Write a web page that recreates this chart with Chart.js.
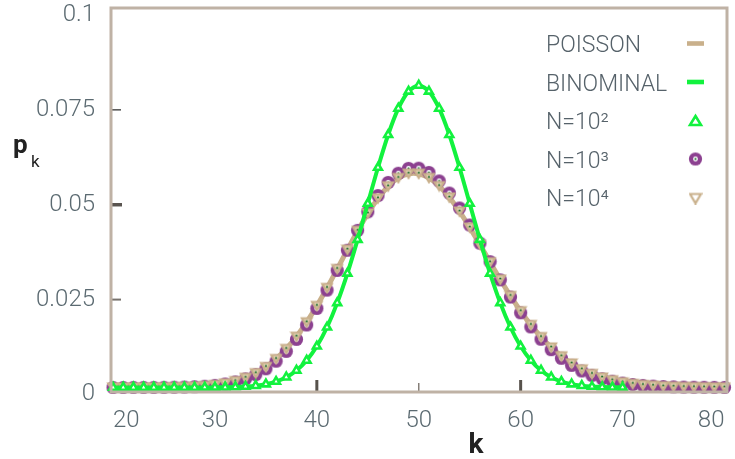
<!DOCTYPE html>
<html><head><meta charset="utf-8">
<script src="https://cdn.jsdelivr.net/npm/chart.js@4.4.0/dist/chart.umd.min.js"></script>
<style>html,body{margin:0;padding:0;background:#fff;}canvas{display:block;}</style>
</head><body>
<canvas id="c" width="735" height="459"></canvas>
<script>
// ---- data ----
const kValues = [20,21,22,23,24,25,26,27,28,29,30,31,32,33,34,35,36,37,38,39,40,41,42,43,44,45,46,47,48,49,50,
                 51,52,53,54,55,56,57,58,59,60,61,62,63,64,65,66,67,68,69,70,71,72,73,74,75,76,77,78,79,80];

const poisson = [0.0000008,0.0000018,0.0000041,0.0000089,0.0000185,0.0000371,0.0000713,0.000132,0.000236,0.000406,
  0.000677,0.001092,0.001707,0.002586,0.003803,0.005432,0.007545,0.010196,0.013416,0.017200,
  0.021500,0.026219,0.031213,0.036294,0.041243,0.045826,0.049811,0.052990,0.055198,0.056325,0.056325,
  0.055221,0.053097,0.050092,0.046381,0.042165,0.037647,0.033024,0.028469,0.024126,0.020105,
  0.016479,0.013290,0.010547,0.008240,0.006338,0.004802,0.003584,0.002635,0.001910,0.001364,
  0.000961,0.000667,0.000457,0.000309,0.000206,0.000136,0.000088,0.000056,0.000036,0.000022];

const binomial = [0,0,0,0,0,0.0000002,0.0000005,0.0000015,0.0000039,0.0000097,
  0.0000232,0.0000522,0.000113,0.000232,0.000458,0.000864,0.001560,0.002698,0.004473,0.007111,
  0.010844,0.015869,0.022292,0.030068,0.038952,0.048474,0.057958,0.066590,0.073527,0.078029,0.079589,
  0.078029,0.073527,0.066590,0.057958,0.048474,0.038952,0.030068,0.022292,0.015869,0.010844,
  0.007111,0.004473,0.002698,0.001560,0.000864,0.000458,0.000232,0.000113,0.0000522,0.0000232,
  null,null,null,null,null,null,null,null,null,null];

const n100 = binomial;

const n1000 = [0.0000005,0.0000012,0.0000028,0.0000062,0.0000132,0.0000271,0.0000535,0.000102,0.000186,0.000328,
  0.000558,0.000919,0.001464,0.002261,0.003384,0.004916,0.006935,0.009510,0.012685,0.016468,
  0.020824,0.025663,0.030841,0.036164,0.041399,0.046290,0.050580,0.054036,0.056465,0.057739,0.057800,
  0.056667,0.054430,0.051241,0.047295,0.042814,0.038025,0.033145,0.028362,0.023833,0.019673,
  0.015955,0.012718,0.009966,0.007679,0.005820,0.004339,0.003184,0.002299,0.001634,0.001144,
  0.000789,0.000536,0.000358,0.000236,0.000154,0.000098,0.000062,0.000039,0.000024,0.000014];

const n10000 = [0.0000007,0.0000016,0.0000037,0.0000082,0.0000172,0.0000348,0.0000675,0.000126,0.000227,0.000393,
  0.000659,0.001068,0.001676,0.002550,0.003763,0.005390,0.007504,0.010161,0.013390,0.017186,
  0.021499,0.026232,0.031238,0.036328,0.041282,0.045865,0.049846,0.053018,0.055218,0.056337,0.056330,
  0.055218,0.053085,0.050073,0.046357,0.042140,0.037624,0.033005,0.028455,0.024117,0.020100,
  0.016477,0.013289,0.010545,0.008236,0.006331,0.004793,0.003573,0.002624,0.001899,0.001355,
  0.000953,0.000660,0.000451,0.000304,0.000202,0.000133,0.000086,0.000055,0.000035,0.000021];

const xTickValues = [20,30,40,50,60,70,80];
const yTickValues = [0,0.025,0.05,0.075,0.1];
const yTickLabels = ['0','0.025','0.05','0.075','0.1'];
const seriesLabels = ['POISSON','BINOMINAL','N=10\u00B2','N=10\u00B3','N=10\u2074'];

// ---- styles ----
const TAN = '#c9b08b', GREEN = '#12f23e', PURPLE = '#8c4190', DOT = '#1f6e2e';
const TICK_FONT = {family:'Roboto', size:24, weight:'300'};
const TICK_COLOR = '#5b6a71';

function pts(arr){ return kValues.map((k,i)=>({x:k, y:arr[i]})); }

function makeCircle(){
  const c = document.createElement('canvas'); c.width = 15; c.height = 15;
  const g = c.getContext('2d');
  g.fillStyle = PURPLE; g.beginPath(); g.arc(7.5,7.5,6.6,0,Math.PI*2); g.fill();
  g.fillStyle = '#ffffff'; g.beginPath(); g.arc(7.5,7.5,2.4,0,Math.PI*2); g.fill();
  g.fillStyle = DOT; g.beginPath(); g.arc(7.5,7.5,1.1,0,Math.PI*2); g.fill();
  return c;
}
function makeDownTri(withDot, w){
  const c = document.createElement('canvas'); c.width = 14; c.height = 13;
  const g = c.getContext('2d');
  const h = w/2;
  g.beginPath(); g.moveTo(7-h,2.5); g.lineTo(7+h,2.5); g.lineTo(7,2.5+w*0.85); g.closePath();
  g.fillStyle = withDot ? '#e2d3b6' : '#ffffff'; g.fill();
  g.lineWidth = 2.2; g.strokeStyle = TAN; g.lineJoin='miter'; g.stroke();
  if (withDot){ g.fillStyle = DOT; g.beginPath(); g.arc(7,5.6,1.1,0,Math.PI*2); g.fill(); }
  return c;
}
const circleImg = makeCircle();
const triImg = makeDownTri(true, 9.5);
const triLegendImg = makeDownTri(false, 11);

const innerTicks = {
  id:'innerTicks',
  beforeDatasetsDraw(chart){
    const {ctx, chartArea:a, scales:{x,y}} = chart;
    ctx.save();
    const xm = [[30,3,'#57524c',12],[40,3,'#57524c',12],[50,1.5,'#857e77',9],[60,3,'#57524c',12],[70,3,'#57524c',12]];
    xm.forEach(([v,w,c,l])=>{ const px = x.getPixelForValue(v); ctx.strokeStyle=c; ctx.lineWidth=w;
      ctx.beginPath(); ctx.moveTo(px,a.bottom); ctx.lineTo(px,a.bottom-l); ctx.stroke(); });
    const ym = [[0.075,1.3,'#333333',10],[0.05,3.5,'#5a5550',11],[0.025,2,'#77726d',10]];
    ym.forEach(([v,w,c,l])=>{ const py = y.getPixelForValue(v)+7; ctx.strokeStyle=c; ctx.lineWidth=w;
      ctx.beginPath(); ctx.moveTo(a.left,py); ctx.lineTo(a.left+l,py); ctx.stroke(); });
    ctx.restore();
  },
  afterDatasetsDraw(chart){
    const {ctx, chartArea:a} = chart;
    ctx.save(); ctx.strokeStyle = '#bfb2a5'; ctx.lineWidth = 3;
    ctx.strokeRect(a.left, a.top, a.right-a.left, a.bottom-a.top);
    ctx.restore();
  },
  afterDraw(chart){
    const ctx = chart.ctx;
    ctx.save();
    // axis titles
    ctx.fillStyle = '#222222'; ctx.textBaseline = 'alphabetic'; ctx.textAlign = 'left';
    ctx.font = 'bold 26px Roboto'; ctx.fillText('p', 13, 153);
    ctx.font = '17px Roboto'; ctx.fillText('k', 31, 167);
    ctx.textAlign = 'center'; ctx.font = 'bold 28px Roboto'; ctx.fillText('k', 476, 453);
    // legend
    ctx.textAlign = 'left'; ctx.font = '300 23px Roboto';
    const rows = [52, 90.5, 129, 167.5, 206];
    const sx = 695.5;
    seriesLabels.forEach((t,i)=>{
      ctx.fillStyle = '#56626a'; ctx.fillText(t, 546, rows[i]);
      const cy = rows[i] - 8.5;
      if (i===0){ ctx.fillStyle = TAN; ctx.fillRect(sx-8.5, cy-2.3, 17, 4.6); }
      else if (i===1){ ctx.fillStyle = GREEN; ctx.fillRect(sx-8.5, cy-2.3, 17, 4.6); }
      else if (i===2){
        ctx.strokeStyle = GREEN; ctx.lineWidth = 2.6; ctx.fillStyle='#fff';
        ctx.beginPath(); ctx.moveTo(sx, cy-4.5); ctx.lineTo(sx+5.5, cy+4.5); ctx.lineTo(sx-5.5, cy+4.5); ctx.closePath(); ctx.fill(); ctx.stroke(); }
      else if (i===3){ ctx.drawImage(circleImg, sx-7.5, cy-7.5); }
      else { ctx.drawImage(triLegendImg, sx-7, cy-6); }
    });
    ctx.restore();
  }
};

new Chart(document.getElementById('c'), {
  type:'line',
  data:{ datasets:[
    {label:seriesLabels[0], data:pts(poisson), borderColor:TAN, borderWidth:5, pointRadius:0, tension:0.3, order:5, clip:false},
    {label:seriesLabels[3], data:pts(n1000), showLine:false, pointStyle:circleImg, pointRadius:7, order:4, clip:false},
    {label:seriesLabels[4], data:pts(n10000), showLine:false, pointStyle:triImg, pointRadius:7, order:3, clip:false},
    {label:seriesLabels[1], data:pts(binomial), borderColor:GREEN, borderWidth:4, pointRadius:0, tension:0.3, order:2, clip:false},
    {label:seriesLabels[2], data:pts(n100), showLine:false, pointStyle:'triangle', pointRadius:4.5, borderColor:GREEN, backgroundColor:'#ffffff', borderWidth:2.6, order:1, clip:false}
  ]},
  options:{
    responsive:false, animation:false, parsing:true,
    layout:{padding:{top:5, right:6, bottom:0, left:0}},
    plugins:{legend:{display:false}, tooltip:{enabled:false}},
    scales:{
      x:{ type:'linear', min:19.8, max:80.25,
        grid:{display:false, drawTicks:false}, border:{display:false},
        ticks:{font:TICK_FONT, color:TICK_COLOR, padding:15, align:'inner', maxRotation:0, autoSkip:false,
          callback:(v)=>String(v)},
        afterBuildTicks:(s)=>{ s.ticks = xTickValues.map(v=>({value:v})); },
        afterFit:(s)=>{ s.height = 67; s.paddingLeft = 0; s.paddingRight = 0; } },
      y:{ type:'linear', min:-0.0012, max:0.1,
        grid:{display:false, drawTicks:false}, border:{display:false},
        ticks:{font:TICK_FONT, color:TICK_COLOR, padding:16, labelOffset:7, autoSkip:false,
          callback:(v)=>{ const i = yTickValues.findIndex(t=>Math.abs(t-v)<1e-9); return i<0 ? '' : yTickLabels[i]; }},
        afterBuildTicks:(s)=>{ s.ticks = yTickValues.map(v=>({value:v})); },
        afterFit:(s)=>{ s.width = 111; s.paddingTop = 0; s.paddingBottom = 0; } }
    }
  },
  plugins:[innerTicks]
});
</script>
</body></html>
